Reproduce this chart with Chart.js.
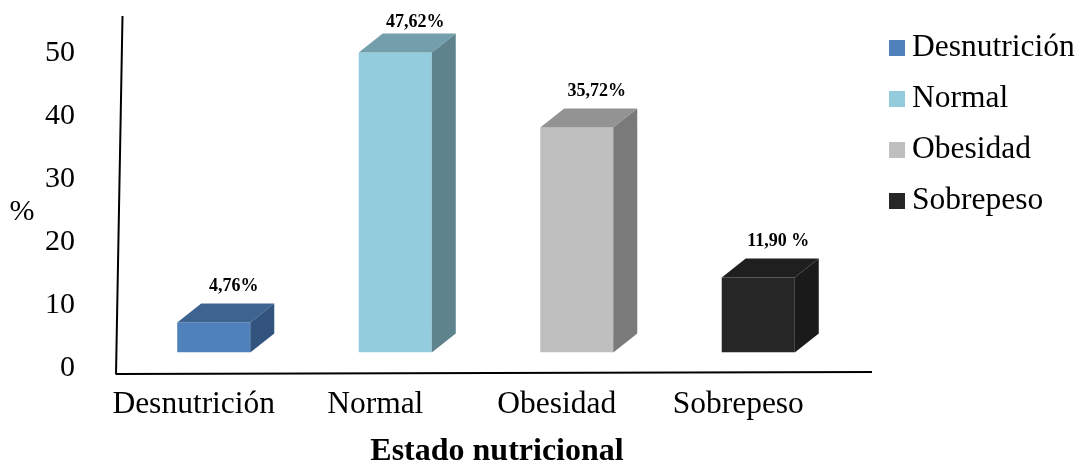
<!DOCTYPE html>
<html>
<head>
<meta charset="utf-8">
<script src="https://cdn.jsdelivr.net/npm/chart.js@4.4.0/dist/chart.umd.min.js"></script>
<style>
  html, body { margin: 0; padding: 0; background: #ffffff; }
  #wrap { width: 1080px; height: 466px; }
</style>
</head>
<body>
<div id="wrap"><canvas id="chart" width="1080" height="466"></canvas></div>
<script>
// Nutritional status distribution (%)
const categories = ['Desnutrición', 'Normal', 'Obesidad', 'Sobrepeso'];
const percentages = [4.76, 47.62, 35.72, 11.90];
const valueLabels = ['4,76%', '47,62%', '35,72%', '11,90 %'];
const yTickValues = [0, 10, 20, 30, 40, 50];
const xAxisTitle = 'Estado nutricional';
const yAxisTitle = '%';

// face colours: front, top, side
const frontColors = ['#4f81bd', '#93cddd', '#bfbfbf', '#262626'];
const topColors = ['#3d6491', '#729fab', '#939393', '#1f1f1f'];
const sideColors = ['#31537d', '#5e838d', '#7a7a7a', '#1a1a1a'];

const SERIF = '"Liberation Serif", "Times New Roman", serif';
const DEPTH_X = 24;
const DEPTH_Y = -19;

// extrude each bar into a box and draw the value above it
const boxBars = {
  id: 'boxBars',
  beforeDatasetsDraw(chart) {
    const { ctx, chartArea: a } = chart;
    ctx.save();
    ctx.strokeStyle = '#000';
    ctx.lineWidth = 2;
    ctx.beginPath();
    ctx.moveTo(a.left - 0.5, a.top - 21.5);
    ctx.lineTo(a.left - 7, a.bottom + 22);
    ctx.moveTo(a.left - 7, a.bottom + 21.5);
    ctx.lineTo(a.right + 23, a.bottom + 19.5);
    ctx.stroke();
    ctx.restore();
  },
  afterDatasetsDraw(chart) {
    const { ctx } = chart;
    const meta = chart.getDatasetMeta(0);
    ctx.save();
    meta.data.forEach((bar, i) => {
      const { x, y, base, width } = bar.getProps(['x', 'y', 'base', 'width'], true);
      const l = x - width / 2, r = x + width / 2;
      ctx.fillStyle = topColors[i];
      ctx.beginPath();
      ctx.moveTo(l, y);
      ctx.lineTo(l + DEPTH_X, y + DEPTH_Y);
      ctx.lineTo(r + DEPTH_X, y + DEPTH_Y);
      ctx.lineTo(r, y);
      ctx.closePath();
      ctx.fill();
      ctx.fillStyle = sideColors[i];
      ctx.beginPath();
      ctx.moveTo(r, y);
      ctx.lineTo(r + DEPTH_X, y + DEPTH_Y);
      ctx.lineTo(r + DEPTH_X, base + DEPTH_Y);
      ctx.lineTo(r, base);
      ctx.closePath();
      ctx.fill();

      ctx.fillStyle = '#000';
      ctx.font = 'bold 18px ' + SERIF;
      ctx.textAlign = 'center';
      ctx.textBaseline = 'middle';
      ctx.fillText(valueLabels[i], x + 20, Math.max(y - 36.5, 22));
    });
    ctx.restore();
  },
  afterDraw(chart) {
    const { ctx } = chart;
    ctx.save();
    ctx.fillStyle = '#000';
    ctx.textAlign = 'center';
    ctx.textBaseline = 'middle';
    ctx.font = '30px ' + SERIF;
    ctx.fillText(yAxisTitle, 22, 212);
    ctx.font = 'bold 32px ' + SERIF;
    ctx.fillText(xAxisTitle, 497, 452);

    // legend
    ctx.font = '31.5px ' + SERIF;
    ctx.textAlign = 'left';
    categories.forEach((name, i) => {
      const cy = 48 + i * 51;
      ctx.fillStyle = frontColors[i];
      ctx.fillRect(889, cy - 8, 16, 16);
      ctx.fillStyle = '#000';
      ctx.fillText(name, 912, cy);
    });
    ctx.restore();
  }
};

new Chart(document.getElementById('chart'), {
  type: 'bar',
  data: {
    labels: categories,
    datasets: [{
      data: percentages,
      backgroundColor: frontColors,
      borderWidth: 0,
      categoryPercentage: 0.5,
      barPercentage: 0.805
    }]
  },
  options: {
    responsive: false,
    animation: false,
    layout: { padding: { top: 37.5, right: 231, bottom: 0, left: 0 } },
    plugins: { legend: { display: false }, tooltip: { enabled: false } },
    scales: {
      x: {
        grid: { display: false, drawTicks: false },
        border: { display: false },
        ticks: {
          color: '#000',
          font: { family: SERIF, size: 31.5 },
          padding: 33,
          labelOffset: -20,
          maxRotation: 0
        },
        afterFit(scale) {
          scale.height = 113.5;
          scale.paddingLeft = 0;
          scale.paddingRight = 0;
        }
      },
      y: {
        min: 0,
        max: 50,
        grid: { display: false, drawTicks: false },
        border: { display: false },
        afterBuildTicks(scale) { scale.ticks = yTickValues.map(v => ({ value: v })); },
        ticks: {
          color: '#000',
          font: { family: SERIF, size: 30 },
          padding: 48,
          labelOffset: 16
        },
        afterFit(scale) {
          scale.width = 123;
          scale.paddingTop = 0;
          scale.paddingBottom = 0;
        }
      }
    }
  },
  plugins: [boxBars]
});
</script>
</body>
</html>
